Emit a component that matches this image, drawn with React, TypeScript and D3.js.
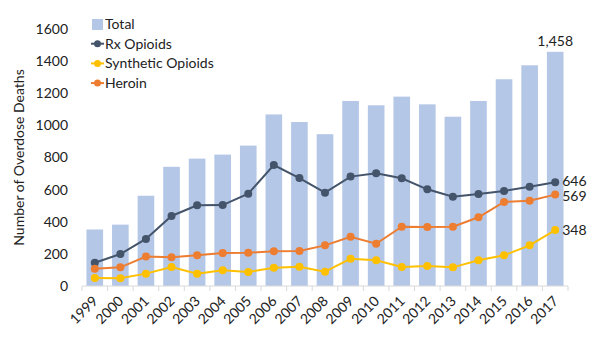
import React, { useEffect, useRef } from 'react';
import * as d3 from 'd3';

const YEARS = ["1999", "2000", "2001", "2002", "2003", "2004", "2005", "2006", "2007", "2008",
    "2009", "2010", "2011", "2012", "2013", "2014", "2015", "2016", "2017"];
const TOTAL = [352, 382, 562, 742, 793, 818, 874, 1068, 1021, 945, 1152, 1125, 1179, 1131, 1054, 1152, 1287, 1374, 1458];
const RX_OPIOIDS = [145, 199, 293, 436, 502, 504, 575, 753, 672, 581, 681, 702, 671, 602, 556, 573, 592, 618, 646];
const HEROIN = [108, 116, 183, 179, 191, 205, 207, 216, 218, 253, 307, 263, 369, 367, 369, 428, 523, 531, 569];
const SYNTHETIC = [50, 48, 77, 118, 77, 98, 87, 114, 120, 89, 170, 160, 118, 124, 116, 160, 191, 253, 348];
const Y_TICKS = [0, 200, 400, 600, 800, 1000, 1200, 1400, 1600];

const SERIES = [
    { name: "Rx Opioids", values: RX_OPIOIDS, color: "#44546a", nudge: -1.5 },
    { name: "Synthetic Opioids", values: SYNTHETIC, color: "#ffc000", nudge: 0 },
    { name: "Heroin", values: HEROIN, color: "#ed7d31", nudge: 1.5 },
];

const FONT = "Lato, 'Open Sans', sans-serif";

function OverdoseChart() {
    const svgRef = useRef(null);
    const width = 608;
    const height = 353;
    const margin = { top: 29, right: 40, bottom: 67, left: 82 };

    useEffect(() => {
        const svg = d3.select(svgRef.current);
        svg.selectAll("*").remove();

        const x = d3.scaleBand()
            .domain(YEARS)
            .range([margin.left, width - margin.right])
            .paddingInner(0.35)
            .paddingOuter(0.175);

        const y = d3.scaleLinear()
            .domain([0, 1600])
            .range([height - margin.bottom, margin.top]);

        const cx = d => x(d) + x.bandwidth() / 2;

        // bars
        svg.append("g")
            .selectAll("rect")
            .data(TOTAL)
            .join("rect")
            .attr("x", (d, i) => x(YEARS[i]))
            .attr("y", d => y(d))
            .attr("width", x.bandwidth())
            .attr("height", d => y(0) - y(d))
            .attr("fill", "#b4c7e7");

        // x axis
        const xAxis = svg.append("g")
            .attr("transform", `translate(0, ${y(0)})`);
        xAxis.append("line")
            .attr("x1", margin.left)
            .attr("x2", width - margin.right)
            .attr("stroke", "#d9d9d9");
        const step = x.step();
        xAxis.selectAll(".tk")
            .data(d3.range(YEARS.length + 1))
            .join("line")
            .attr("x1", i => margin.left + i * step)
            .attr("x2", i => margin.left + i * step)
            .attr("y1", 0)
            .attr("y2", 5)
            .attr("stroke", "#d9d9d9");
        xAxis.selectAll("text")
            .data(YEARS)
            .join("text")
            .attr("transform", d => `translate(${cx(d) + 4}, 16) rotate(-45)`)
            .attr("text-anchor", "end")
            .attr("font-family", FONT)
            .attr("font-size", 14)
            .attr("fill", "#222")
            .text(d => d);

        // y axis
        svg.append("g")
            .selectAll("text")
            .data(Y_TICKS)
            .join("text")
            .attr("x", 68)
            .attr("y", d => y(d))
            .attr("dy", "0.35em")
            .attr("text-anchor", "end")
            .attr("font-family", FONT)
            .attr("font-size", 14)
            .attr("fill", "#222")
            .text(d => d);

        svg.append("text")
            .attr("transform", `translate(24, ${(y(0) + y(1600)) / 2}) rotate(-90)`)
            .attr("text-anchor", "middle")
            .attr("font-family", FONT)
            .attr("font-size", 14)
            .attr("fill", "#222")
            .text("Number of Overdose Deaths");

        // lines
        const line = d3.line()
            .x((d, i) => cx(YEARS[i]))
            .y(d => y(d));

        SERIES.forEach(s => {
            const g = svg.append("g");
            g.append("path")
                .datum(s.values)
                .attr("d", line)
                .attr("fill", "none")
                .attr("stroke", s.color)
                .attr("stroke-width", 2);
            g.selectAll("circle")
                .data(s.values)
                .join("circle")
                .attr("cx", (d, i) => cx(YEARS[i]))
                .attr("cy", d => y(d))
                .attr("r", 4)
                .attr("fill", s.color);
        });

        // data labels
        const last = YEARS.length - 1;
        svg.append("text")
            .attr("x", cx(YEARS[last]))
            .attr("y", y(TOTAL[last]) - 6)
            .attr("text-anchor", "middle")
            .attr("font-family", FONT)
            .attr("font-size", 14)
            .attr("fill", "#222")
            .text(d3.format(",")(TOTAL[last]));
        SERIES.forEach(s => {
            svg.append("text")
                .attr("x", cx(YEARS[last]) + 7)
                .attr("y", y(s.values[last]) + s.nudge)
                .attr("dy", "0.35em")
                .attr("font-family", FONT)
                .attr("font-size", 14)
                .attr("fill", "#222")
                .text(s.values[last]);
        });

        // legend
        const legend = svg.append("g").attr("transform", "translate(92, 24)");
        legend.append("rect")
            .attr("x", 0)
            .attr("y", -5)
            .attr("width", 11)
            .attr("height", 11)
            .attr("fill", "#b4c7e7");
        legend.append("text")
            .attr("x", 13)
            .attr("dy", "0.35em")
            .attr("font-family", FONT)
            .attr("font-size", 14)
            .attr("fill", "#222")
            .text("Total");
        SERIES.forEach((s, i) => {
            const row = legend.append("g").attr("transform", `translate(0, ${(i + 1) * 19.7})`);
            row.append("line")
                .attr("x1", -1)
                .attr("x2", 12)
                .attr("stroke", s.color)
                .attr("stroke-width", 2);
            row.append("circle")
                .attr("cx", 5.5)
                .attr("r", 3.5)
                .attr("fill", s.color);
            row.append("text")
                .attr("x", 13)
                .attr("dy", "0.35em")
                .attr("font-family", FONT)
                .attr("font-size", 14)
                .attr("fill", "#222")
                .text(s.name);
        });
    }, []);

    return (
        <svg ref={svgRef} width={width} height={height} style={{ display: "block", background: "#fff" }} />
    );
}

export default function App() {
    return (
        <div style={{ margin: -8 }}>
            <OverdoseChart />
        </div>
    );
}
